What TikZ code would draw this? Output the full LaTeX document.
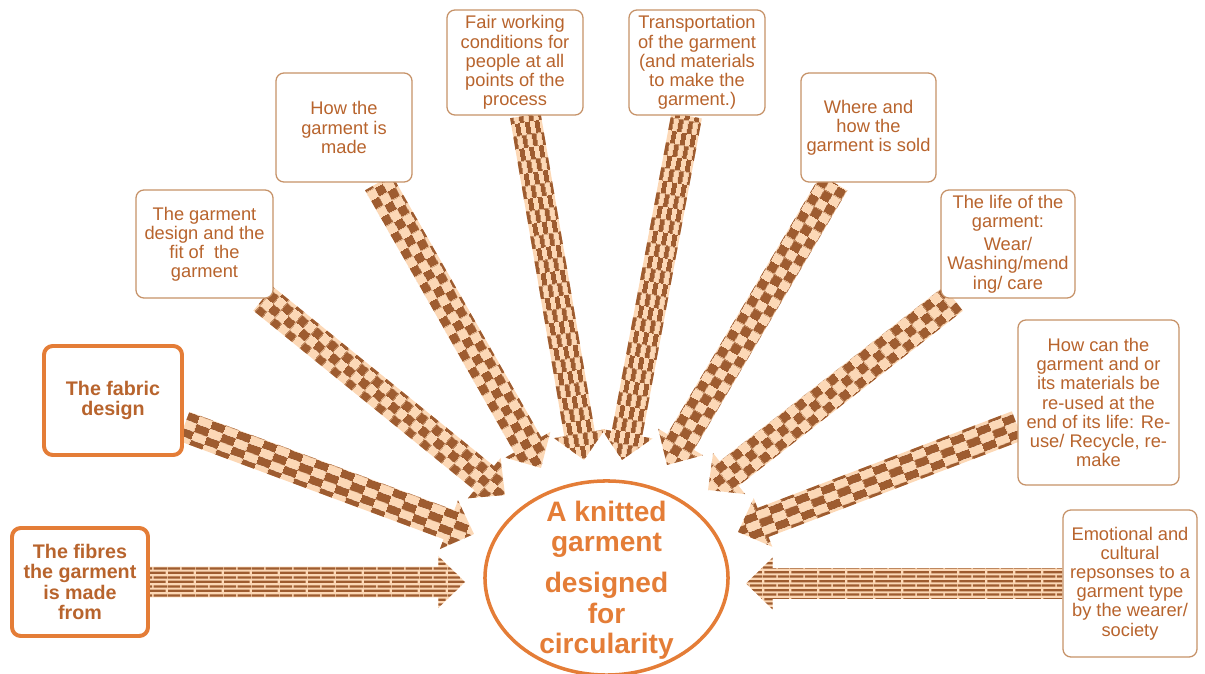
\documentclass[tikz,border=0pt]{standalone}
\usepackage{fontspec}
\setmainfont{Liberation Sans}
\usetikzlibrary{shapes.geometric, patterns.meta, calc, backgrounds}
\definecolor{knitorange}{RGB}{228,125,55}
\definecolor{knittext}{RGB}{184,100,45}
\definecolor{knitline}{RGB}{198,146,104}
\definecolor{knitbrown}{RGB}{158,92,48}
\definecolor{knitpeach}{RGB}{252,216,182}

% pattern keys
\pgfkeys{/pgf/pattern keys/.cd, knit long/.initial=7pt, knit wide/.initial=7pt, knit angle/.initial=0}
\def\knitL{\pgfkeysvalueof{/pgf/pattern keys/knit long}}
\def\knitW{\pgfkeysvalueof{/pgf/pattern keys/knit wide}}
\def\knitA{\pgfkeysvalueof{/pgf/pattern keys/knit angle}}

% checks along the arrow
\tikzdeclarepattern{
  name=knitchecks,
  parameters={\knitL,\knitW,\knitA},
  bounding box={(0pt,0pt) and (2*\knitL,2*\knitW)},
  tile size={(2*\knitL,2*\knitW)},
  tile transformation={rotate=\knitA},
  defaults={knit long/.initial=7pt, knit wide/.initial=7pt, knit angle/.initial=0},
  code={
    \fill (0pt,0pt) rectangle (\knitL,\knitW);
    \fill (\knitL,\knitW) rectangle (2*\knitL,2*\knitW);
  },
}
% rows of dashes
\tikzdeclarepattern{
  name=knitrows,
  parameters={\knitL,\knitW,\knitA},
  bounding box={(0pt,0pt) and (2*\knitL,2*\knitW)},
  tile size={(2*\knitL,2*\knitW)},
  tile transformation={rotate=\knitA},
  defaults={knit long/.initial=10pt, knit wide/.initial=3.3pt, knit angle/.initial=0},
  code={
    \fill (0pt,0pt) rectangle (2*\knitL-1.2pt,0.55*\knitW);
    \fill (0pt,\knitW) rectangle (\knitL-1.2pt,1.55*\knitW);
    \fill (\knitL,\knitW) rectangle (2*\knitL,1.55*\knitW);
  },
}

% block arrow: [pattern keys]{pattern}{from}{to}
\newcommand{\knitarrow}[4][]{%
  \path let \p1=(#3), \p2=(#4) in \pgfextra{%
    \pgfmathsetmacro\knitang{atan2(\y2-\y1,\x2-\x1)}%
    \pgfmathsetmacro\knitlen{veclen(\x2-\x1,\y2-\y1)}%
    \pgfmathsetmacro\knitbase{\knitlen-19}%
    \global\let\knitang\knitang \global\let\knitlen\knitlen \global\let\knitbase\knitbase};
  \fill[knitfill, shift={(#3)}, rotate=\knitang, pattern/.expanded={#2[knit angle=\knitang,#1]}]
    (0pt,-11pt) -- (\knitbase pt,-11pt) -- (\knitbase pt,-18.5pt) -- (\knitlen pt,0pt)
    -- (\knitbase pt,18.5pt) -- (\knitbase pt,11pt) -- (0pt,11pt) -- cycle;
}

\tikzset{
  knitfill/.style={preaction={fill=knitpeach}, pattern color=knitbrown},
  thinbox/.style={draw=knitline, line width=0.9pt, rounded corners=0.2cm, fill=white,
    text=knittext, align=center, inner sep=1pt, font=\fontsize{13}{13.6}\selectfont},
  boldbox/.style={draw=knitorange, line width=2.8pt, rounded corners=0.22cm, fill=white,
    text=knittext, align=center, inner sep=1pt, font=\fontsize{14}{14.6}\selectfont\bfseries},
  hub/.style={ellipse, draw=knitorange, line width=2.5pt, inner sep=0pt},
  hubtext/.style={text=knitorange, align=center, font=\fontsize{20}{21.5}\selectfont\bfseries},
}

\begin{document}
\begin{tikzpicture}[x=0.025cm, y=-0.025cm]
\useasboundingbox (0,0) rectangle (1205,674);

% centre
\node[hub, minimum width=6.075cm, minimum height=4.85cm] (garment) at (606.5,578) {};
\node[hubtext] (garmenttext) at (606.5,580) {A knitted\\garment\\[8pt]designed\\for\\circularity};

% left boxes
\node[boldbox, minimum width=3.4cm, minimum height=2.7cm] (fibres) at (80,582)
  {The fibres\\the garment\\is made\\from};
\node[boldbox, minimum width=3.45cm, minimum height=2.725cm] (fabric) at (113,400.5)
  {The fabric\\design};
\node[thinbox, minimum width=3.425cm, minimum height=2.7cm] (design) at (204.5,244)
  {The garment\\design and the\\fit of \ the\\garment};
\node[thinbox, minimum width=3.4cm, minimum height=2.725cm] (made) at (344,127.5)
  {How the\\garment is\\made};
\node[thinbox, minimum width=3.4cm, minimum height=2.625cm] (fair) at (515,62.5)
  {Fair working\\conditions for\\people at all\\points of the\\process};

% right boxes
\node[thinbox, minimum width=3.4cm, minimum height=2.625cm] (transport) at (697,62.5)
  {Transportation\\of the garment\\(and materials\\to make the\\garment.)};
\node[thinbox, minimum width=3.375cm, minimum height=2.725cm] (sold) at (868.5,127.5)
  {Where and\\how the\\garment is sold};
\node[thinbox, minimum width=3.35cm, minimum height=2.7cm] (life) at (1008,244)
  {The life of the\\garment:\\[3pt]Wear/\\Washing/mend\\ing/ care};
\node[thinbox, minimum width=4.025cm, minimum height=4.125cm] (reuse) at (1098.5,402.5)
  {How can the\\garment and or\\its materials be\\re-used at the\\end of its life: Re-\\use/ Recycle, re-\\make};
\node[thinbox, minimum width=3.35cm, minimum height=3.675cm] (emotion) at (1130,583.5)
  {Emotional and\\cultural\\repsonses to a\\garment type\\by the wearer/\\society};

% arrow tips
\coordinate (fibrestip) at (465,582);
\coordinate (fabrictip) at (474,534);
\coordinate (designtip) at (505,495);
\coordinate (madetip) at (541,468);
\coordinate (fairtip) at (584,460);
\coordinate (transporttip) at (622,460);
\coordinate (soldtip) at (667,465);
\coordinate (lifetip) at (708,490);
\coordinate (reusetip) at (738,532);
\coordinate (emotiontip) at (746,583.5);

% knitted arrows
\begin{scope}[on background layer]
  \knitarrow[knit long=10pt, knit wide=3.3pt]{knitrows}{fibres.east}{fibrestip}
  \knitarrow[knit long=10pt, knit wide=6pt]{knitchecks}{fabric.-20}{fabrictip}
  \knitarrow{knitchecks}{design.-43}{designtip}
  \knitarrow{knitchecks}{made.-58}{madetip}
  \knitarrow[knit long=9pt, knit wide=3.5pt]{knitchecks}{fair.-79}{fairtip}
  \knitarrow[knit long=9pt, knit wide=3.5pt]{knitchecks}{transport.-101}{transporttip}
  \knitarrow{knitchecks}{sold.-122}{soldtip}
  \knitarrow{knitchecks}{life.-135}{lifetip}
  \knitarrow[knit long=10pt, knit wide=6pt]{knitchecks}{reuse.-164}{reusetip}
  \knitarrow[knit long=10pt, knit wide=3.3pt]{knitrows}{emotion.west}{emotiontip}
\end{scope}

\end{tikzpicture}
\end{document}
